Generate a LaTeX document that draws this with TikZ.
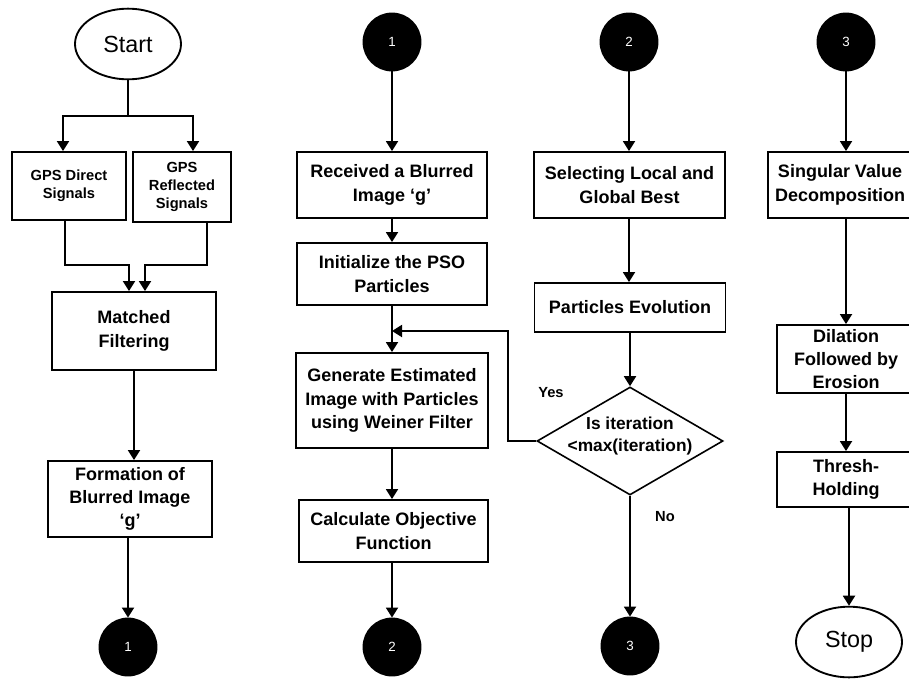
\documentclass[tikz,border=0pt]{standalone}
\usepackage{fontspec}
\setmainfont{Liberation Sans}
\usetikzlibrary{arrows.meta,shapes.geometric}

\begin{document}
\begin{tikzpicture}[x=0.75pt,y=-0.75pt,
  line width=1.4pt,
  arr/.style={-{Triangle[length=7.5pt,width=9pt]}},
  procbox/.style={draw,rectangle,align=center,inner sep=1pt,
    font=\fontsize{13.5}{17.5}\selectfont\bfseries},
  smallbox/.style={draw,rectangle,align=center,inner sep=1pt,
    font=\fontsize{11}{13.5}\selectfont\bfseries},
  terminal/.style={draw,ellipse,inner sep=0pt,minimum width=79.5pt,
    minimum height=53pt,font=\fontsize{17.5}{20}\selectfont},
  connector/.style={circle,fill=black,draw=black,minimum size=42.75pt,
    inner sep=0pt,text=white,font=\fontsize{10}{12}\selectfont},
  decision/.style={draw,diamond,inner sep=0pt,minimum width=139.5pt,
    minimum height=81pt,line width=1.2pt},
  tag/.style={font=\fontsize{11}{13}\selectfont\bfseries}]

\useasboundingbox (0,0) rectangle (909,678);

% ---- column 1: signal acquisition ----
\node[terminal] (start) at (128,44) {Start};
\node[smallbox,minimum width=85.5pt,minimum height=51pt] (gpsd) at (69,186)
  {GPS Direct\\Signals};
\node[smallbox,minimum width=73.5pt,minimum height=52.5pt] (gpsr) at (182,187)
  {GPS\\Reflected\\Signals};
\node[procbox,minimum width=123pt,minimum height=58.5pt] (match) at (134,331)
  {Matched\\Filtering};
\node[procbox,minimum width=123pt,minimum height=57pt] (form) at (130,499)
  {Formation of\\Blurred Image\\`g'};
\node[connector] (b1) at (128,647) {1};

\coordinate (split) at (128,116);
\coordinate (sl) at (63,116);
\coordinate (sr) at (193,116);
\draw (start.south) -- (split);
\draw[arr] (split) -- (sl) -- (sl |- gpsd.north);
\draw[arr] (split) -- (sr) -- (sr |- gpsr.north);

\coordinate (mlx) at (65,265);
\coordinate (mli) at (129,265);
\coordinate (mri) at (145,265);
\coordinate (mrx) at (207,265);
\draw[arr] (gpsd.south -| mlx) -- (mlx) -- (mli) -- (mli |- match.north);
\draw[arr] (gpsr.south -| mrx) -- (mrx) -- (mri) -- (mri |- match.north);
\draw[arr] (match.south) -- (match.south |- form.north);
\draw[arr] (form.south -| b1) -- (b1.north);

% ---- column 2: PSO deblurring ----
\node[connector] (t1) at (392,42) {1};
\node[procbox,minimum width=142.5pt,minimum height=49.5pt] (recv) at (392,185)
  {Received a Blurred\\Image `g'};
\node[procbox,minimum width=142.5pt,minimum height=46.5pt] (init) at (392,274)
  {Initialize the PSO\\Particles};
\node[procbox,minimum width=144pt,minimum height=71.25pt] (gen) at (392,400.5)
  {Generate Estimated\\Image with Particles\\using Weiner Filter};
\node[procbox,minimum width=141.75pt,minimum height=46.5pt] (calc) at (393.5,531)
  {Calculate Objective\\Function};
\node[connector] (b2) at (392,647) {2};

\draw[arr] (t1.south) -- (recv.north);
\draw[arr] (recv.south) -- (init.north);
\draw[arr] (init.south) -- (gen.north);
\draw[arr] (gen.south) -- (gen.south |- calc.north);
\draw[arr] (calc.south -| b2) -- (b2.north);

% ---- column 3: particle update loop ----
\node[connector] (t2) at (629,42) {2};
\node[procbox,minimum width=143.25pt,minimum height=49.5pt] (sel) at (629.5,185)
  {Selecting Local and\\Global Best};
\node[procbox,minimum width=143.25pt,minimum height=36.75pt] (evo) at (630,307.5)
  {Particles Evolution};
\node[decision] (dia) at (630,441) {};
\node[align=center,inner sep=0pt,font=\fontsize{13}{17}\selectfont\bfseries]
  (diatext) at (630,436) {Is iteration\\<max(iteration)};
\node[connector] (b3) at (630,646) {3};
\node[tag] (yes) at (551,393) {Yes};
\node[tag] (no) at (665,517) {No};

\draw[arr] (t2.south) -- (t2.south |- sel.north);
\draw[arr] (sel.south -| t2) -- (t2 |- evo.north);
\draw[arr] (evo.south -| dia) -- (dia.north);
\draw[arr] (dia.south) -- (b3.north);

\coordinate (fb) at (392,331);
\coordinate (fbr) at (508,331);
\draw[arr] (dia.west) -| (fbr) -- (fb);

% ---- column 4: post-processing ----
\node[connector] (t3) at (846,42) {3};
\node[procbox,minimum width=108pt,minimum height=49.5pt] (svd) at (840,185)
  {Singular Value\\Decomposition};
\node[procbox,minimum width=103.5pt,minimum height=51pt,inner sep=0pt] (dil) at (846,359)
  {Dilation\\Followed by\\Erosion};
\node[procbox,minimum width=103.5pt,minimum height=41.25pt] (thr) at (846,479.5)
  {Thresh-\\Holding};
\node[terminal] (stop) at (849,642) {Stop};

\draw[arr] (t3.south) -- (t3.south |- svd.north);
\draw[arr] (svd.south -| t3) -- (dil.north);
\draw[arr] (dil.south) -- (thr.north);
\draw[arr] (stop.north |- thr.south) -- (stop.north);

\end{tikzpicture}
\end{document}
